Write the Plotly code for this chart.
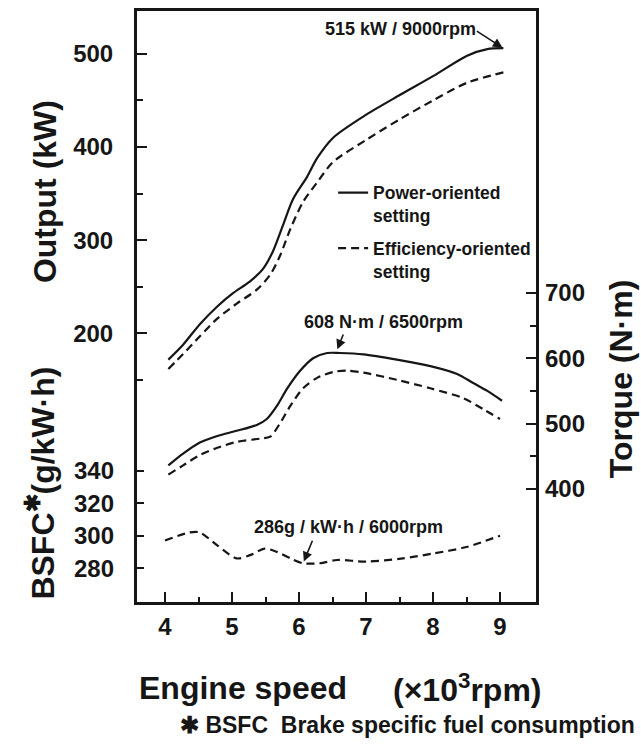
import plotly.graph_objects as go

# ---- data (engine speed in 10^3 rpm) ----
pw_out_x = [4.05, 4.27, 4.52, 4.78, 5.01, 5.27, 5.46, 5.61, 5.76, 5.91, 6.12, 6.27, 6.51, 7.01, 7.51, 8.0, 8.51, 8.81, 9.05]
pw_out_y = [172, 188, 210, 229, 243, 256, 269, 288, 316, 344, 368, 388, 410, 435, 456, 476, 498, 505, 506]

ef_out_x = [4.05, 4.27, 4.52, 4.78, 5.07, 5.37, 5.57, 5.72, 5.87, 6.06, 6.27, 6.51, 7.01, 7.51, 8.0, 8.51, 9.05]
ef_out_y = [162, 178, 197, 216, 232, 247, 263, 284, 312, 341, 362, 384, 408, 430, 450, 469, 480]

pw_trq_x = [4.05, 4.27, 4.52, 4.78, 5.07, 5.37, 5.52, 5.67, 5.82, 6.01, 6.21, 6.42, 6.61, 6.96, 7.46, 7.96, 8.36, 8.6, 8.81, 9.03]
pw_trq_y = [436, 454, 471, 481, 489, 498, 507, 527, 553, 580, 600, 608, 608, 606, 598, 588, 576, 562, 550, 535]

ef_trq_x = [4.05, 4.27, 4.52, 4.78, 5.07, 5.42, 5.57, 5.72, 5.87, 6.06, 6.27, 6.51, 6.72, 6.96, 7.46, 7.96, 8.45, 8.75, 9.0]
ef_trq_y = [422, 436, 452, 463, 472, 477, 480, 501, 527, 554, 570, 579, 581, 578, 567, 554, 539, 522, 507]

ef_bsfc_x = [4.0, 4.37, 4.52, 4.78, 5.07, 5.27, 5.49, 5.67, 5.87, 6.06, 6.31, 6.57, 7.0, 7.55, 8.0, 8.5, 9.0]
ef_bsfc_y = [297, 302, 302, 294, 286, 288, 292, 290, 286, 283, 283, 285, 284, 286, 289, 293, 300]

x_ticks = [4, 5, 6, 7, 8, 9]
x_minor = [4.5, 5.5, 6.5, 7.5, 8.5]
out_ticks = [200, 300, 400, 500]
out_minor = [150, 250, 350, 450]
bsfc_ticks = [280, 300, 320, 340]
trq_ticks = [400, 500, 600, 700]
trq_minor = [450, 550, 650]

INK = "#161616"
FAM = "Liberation Sans"
NUM_FONT = dict(family=FAM, size=24, color=INK, weight="bold")
SMALL_FONT = dict(family=FAM, size=18, color=INK, weight="bold")
LEGEND_FONT = dict(family=FAM, size=17.5, color=INK, weight="bold")
TITLE_FONT = dict(family=FAM, size=32, color=INK, weight="bold")

solid = dict(color=INK, width=2.2)
dashed = dict(color=INK, width=2.2, dash="8px,5px")

fig = go.Figure()
fig.add_trace(go.Scatter(x=pw_out_x, y=pw_out_y, mode="lines", line=dict(**solid, shape="spline", smoothing=0.8),
                         name="Power-oriented<br>setting", legendgroup="p", showlegend=True, yaxis="y"))
fig.add_trace(go.Scatter(x=ef_out_x, y=ef_out_y, mode="lines", line=dict(**dashed, shape="spline", smoothing=0.8),
                         name="Efficiency-oriented<br>setting", legendgroup="e", showlegend=True, yaxis="y"))
fig.add_trace(go.Scatter(x=pw_trq_x, y=pw_trq_y, mode="lines", line=dict(**solid, shape="spline", smoothing=0.8),
                         name="Power-oriented", legendgroup="p", showlegend=False, yaxis="y3"))
fig.add_trace(go.Scatter(x=ef_trq_x, y=ef_trq_y, mode="lines", line=dict(**dashed, shape="spline", smoothing=0.8),
                         name="Efficiency-oriented", legendgroup="e", showlegend=False, yaxis="y3"))
fig.add_trace(go.Scatter(x=ef_bsfc_x, y=ef_bsfc_y, mode="lines", line=dict(**dashed, shape="spline", smoothing=0.8),
                         name="Efficiency-oriented", legendgroup="e", showlegend=False, yaxis="y2"))

fig.update_layout(
    width=641, height=744,
    margin=dict(l=137, r=105, t=8, b=142, pad=0),
    paper_bgcolor="white", plot_bgcolor="white",
    xaxis=dict(range=[3.582, 9.537], tickvals=x_ticks, ticks="inside", ticklen=10, tickwidth=2, tickcolor=INK,
               minor=dict(tickvals=x_minor, ticks="inside", ticklen=5, tickwidth=2, tickcolor=INK),
               showline=True, linewidth=3, linecolor=INK, mirror=True, showgrid=False, zeroline=False,
               tickfont=NUM_FONT, ticklabelstandoff=1),
    yaxis=dict(range=[-88, 545.9], tickvals=out_ticks, ticks="inside", ticklen=10, tickwidth=2, tickcolor=INK,
               minor=dict(tickvals=out_minor, ticks="inside", ticklen=6, tickwidth=2, tickcolor=INK),
               showline=True, linewidth=3, linecolor=INK, mirror=True, showgrid=False, zeroline=False,
               tickfont=NUM_FONT, ticklabelstandoff=16),
    yaxis2=dict(range=[259.1, 623.6], tickvals=bsfc_ticks, ticks="inside", ticklen=7, tickwidth=2, tickcolor=INK,
                overlaying="y", side="left", anchor="x", showline=False, showgrid=False, zeroline=False,
                tickfont=NUM_FONT, ticklabelstandoff=22),
    yaxis3=dict(range=[227.1, 1131.2], tickvals=trq_ticks, ticks="inside", ticklen=10, tickwidth=2, tickcolor=INK,
                minor=dict(tickvals=trq_minor, ticks="inside", ticklen=6, tickwidth=2, tickcolor=INK),
                overlaying="y", side="right", anchor="x", showline=False, showgrid=False, zeroline=False,
                tickfont=NUM_FONT, ticklabelstandoff=8),
    showlegend=True,
    legend=dict(x=0.4915, y=0.723, xanchor="left", yanchor="top", font=LEGEND_FONT,
                bgcolor="rgba(0,0,0,0)", tracegroupgap=7, valign="top", itemwidth=30),
)

def px2paper(px, py):
    return (px - 137) / 399, (602 - py) / 594

ann = []
# axis titles
x, y = px2paper(45, 190)
ann.append(dict(text="Output (kW)", x=x, y=y, textangle=-90, font=TITLE_FONT))
x, y = px2paper(40, 483)
ann.append(dict(text="BSFC<sup>✱</sup>(g/kW·h)", x=x, y=y, textangle=-90, font=TITLE_FONT))
x, y = px2paper(621, 378)
ann.append(dict(text="Torque (N·m)", x=x, y=y, textangle=-90, font=TITLE_FONT))
x, y = px2paper(137, 688)
ann.append(dict(text="Engine speed", x=x, y=y, xanchor="left", font=TITLE_FONT))
x, y = px2paper(391, 688)
ann.append(dict(text="(×10<sup>3</sup>rpm)", x=x, y=y, xanchor="left", font=TITLE_FONT))
x, y = px2paper(178, 726)
ann.append(dict(text="✱ BSFC  Brake specific fuel consumption", x=x, y=y, xanchor="left",
                font=dict(family=FAM, size=23, color=INK, weight="bold")))
# in-plot labels
x, y = px2paper(400, 26)
ann.append(dict(text="515 kW / 9000rpm", x=x, y=y, font=SMALL_FONT))
x, y = px2paper(383, 321)
ann.append(dict(text="608 N·m / 6500rpm", x=x, y=y, font=SMALL_FONT))
x, y = px2paper(348, 527)
ann.append(dict(text="286g / kW·h / 6000rpm", x=x, y=y, font=SMALL_FONT))
for a in ann:
    a.setdefault("xanchor", "center")
    a.update(xref="paper", yref="paper", showarrow=False, yanchor="middle")
    fig.add_annotation(**a)

# arrows pointing at the curves
fig.add_annotation(x=pw_out_x[-1], y=pw_out_y[-1], xref="x", yref="y", text="", showarrow=True,
                   ax=-28, ay=-18, arrowhead=2, arrowsize=1.2, arrowwidth=1.6, arrowcolor=INK, standoff=1)
fig.add_annotation(x=6.55, y=608, xref="x", yref="y3", text="", showarrow=True,
                   ax=8, ay=-20, arrowhead=2, arrowsize=1.2, arrowwidth=1.6, arrowcolor=INK, standoff=4)
fig.add_annotation(x=6.06, y=283, xref="x", yref="y2", text="", showarrow=True,
                   ax=10, ay=-24, arrowhead=2, arrowsize=1.2, arrowwidth=1.6, arrowcolor=INK, standoff=2)

fig.write_html("out.html")
